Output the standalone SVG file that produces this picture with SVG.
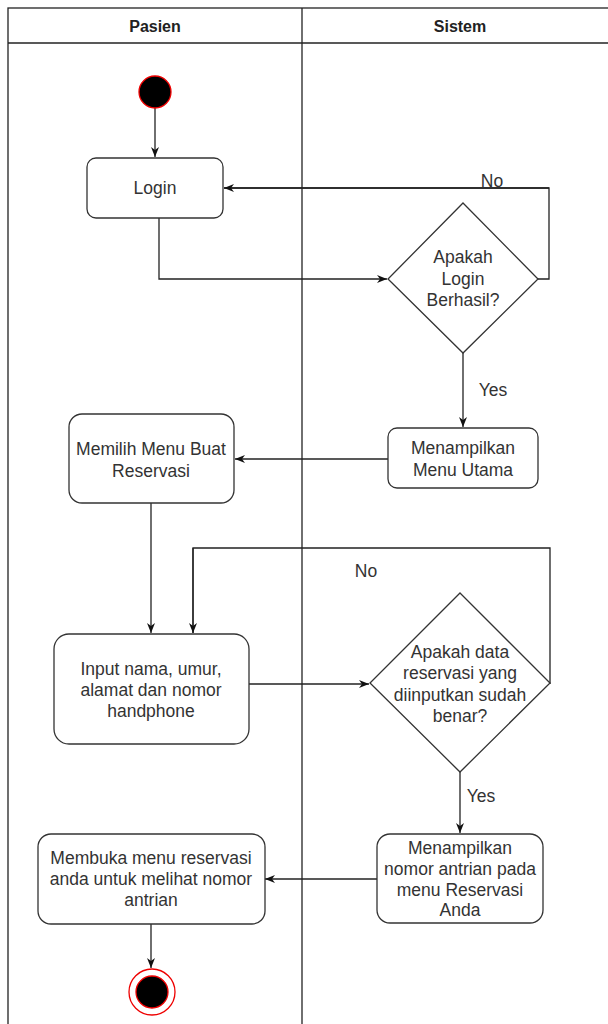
<svg xmlns="http://www.w3.org/2000/svg" width="608" height="1024" viewBox="0 0 608 1024">
<style>
.lane{fill:none;stroke:#222;stroke-width:1.3}
.hdr{font-family:"Liberation Sans",Arial,sans-serif;font-size:16px;font-weight:bold;fill:#222;text-anchor:middle;dominant-baseline:central}
.box{fill:#fff;stroke:#333;stroke-width:1.3}
.t{font-family:"Liberation Sans",Arial,sans-serif;font-size:17.5px;fill:#333;text-anchor:middle;dominant-baseline:central}
.c{fill:none;stroke:#222;stroke-width:1.3;marker-end:url(#arr)}
.cl{fill:none;stroke:#222;stroke-width:1.3}
</style>
<defs>
<marker id="arr" markerWidth="12" markerHeight="10" refX="10" refY="4" orient="auto" markerUnits="userSpaceOnUse">
<path d="M0,0 L10,4 L0,8 L3,4 z" fill="#111"/>
</marker>
</defs>
<rect width="608" height="1024" fill="#fff"/>
<g id="swimlane">
<rect class="lane" x="8" y="8" width="612" height="1030"/>
<line class="lane" x1="8" y1="43" x2="620" y2="43"/>
<line class="lane" x1="302" y1="8" x2="302" y2="1030"/>
<text class="hdr" x="155" y="26">Pasien</text>
<text class="hdr" x="460" y="26">Sistem</text>
</g>
<g id="connectors">
<path class="c" d="M155,108 V157"/>
<path class="c" d="M159,218 V279 H387"/>
<path class="cl" d="M538,279 H549 V188 H224"/>
<path class="c" d="M549,188 H224"/>
<text class="t" x="492" y="181">No</text>
<path class="c" d="M463,353 V427"/>
<text class="t" x="493" y="390">Yes</text>
<path class="c" d="M388,459 H235"/>
<path class="c" d="M151,503 V633"/>
<path class="cl" d="M550,684 V548 H193 V633"/>
<path class="c" d="M193,548 V633"/>
<text class="t" x="366" y="571">No</text>
<path class="c" d="M249,684 H369"/>
<path class="c" d="M460,772 V833"/>
<text class="t" x="481" y="796">Yes</text>
<path class="c" d="M377,879 H265"/>
<path class="c" d="M151,924 V968"/>
</g>
<g id="start">
<circle cx="155" cy="92" r="16" fill="#000" stroke="#e00" stroke-width="1.3"/>
</g>
<g id="login">
<rect class="box" x="87" y="158" width="136" height="60" rx="9"/>
<text class="t" x="155" y="188">Login</text>
</g>
<g id="decision-login">
<polygon class="box" points="463,203 538,279 463,353 388,279"/>
<text class="t" x="463" y="257">Apakah</text>
<text class="t" x="463" y="279">Login</text>
<text class="t" x="463" y="300">Berhasil?</text>
</g>
<g id="menu-utama">
<rect class="box" x="388" y="428" width="150" height="60" rx="9"/>
<text class="t" x="463" y="448">Menampilkan</text>
<text class="t" x="463" y="470">Menu Utama</text>
</g>
<g id="memilih-menu">
<rect class="box" x="69" y="414" width="165" height="89" rx="13"/>
<text class="t" x="151" y="449">Memilih Menu Buat</text>
<text class="t" x="151" y="471">Reservasi</text>
</g>
<g id="input-data">
<rect class="box" x="54" y="634" width="195" height="110" rx="15"/>
<text class="t" x="151" y="669">Input nama, umur,</text>
<text class="t" x="151" y="690">alamat dan nomor</text>
<text class="t" x="151" y="711">handphone</text>
</g>
<g id="decision-data">
<polygon class="box" points="460,593 550,683 460,772 370,683"/>
<text class="t" x="460" y="652">Apakah data</text>
<text class="t" x="460" y="673">reservasi yang</text>
<text class="t" x="460" y="695">diinputkan sudah</text>
<text class="t" x="460" y="716">benar?</text>
</g>
<g id="nomor-antrian">
<rect class="box" x="377" y="834" width="166" height="89" rx="13"/>
<text class="t" x="460" y="848">Menampilkan</text>
<text class="t" x="460" y="869">nomor antrian pada</text>
<text class="t" x="460" y="890">menu Reservasi</text>
<text class="t" x="460" y="910">Anda</text>
</g>
<g id="membuka-menu">
<rect class="box" x="38" y="834" width="227" height="90" rx="13"/>
<text class="t" x="151" y="858">Membuka menu reservasi</text>
<text class="t" x="151" y="879">anda untuk melihat nomor</text>
<text class="t" x="151" y="900">antrian</text>
</g>
<g id="end">
<circle cx="152" cy="992" r="23" fill="#fff" stroke="#e00" stroke-width="1.3"/>
<circle cx="152" cy="992" r="16" fill="#000" stroke="#e00" stroke-width="1.3"/>
</g>
</svg>
